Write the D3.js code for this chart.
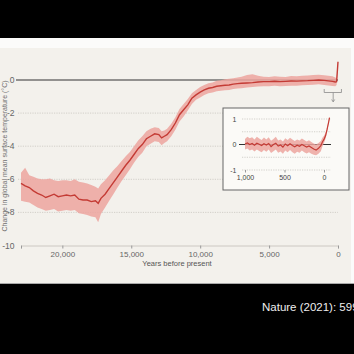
<!DOCTYPE html>
<html>
<head>
<meta charset="utf-8">
<script src="https://cdn.jsdelivr.net/npm/d3@7"></script>
<style>
  html, body { margin: 0; padding: 0; background: #000; }
  svg { display: block; }
</style>
</head>
<body>
<svg id="chart" width="354" height="354"></svg>
<script>
// ---- data ----
// main series: years before present
const years = [23000, 22700, 22400, 22100, 21800, 21500, 21200, 20900, 20600, 20300,
	20000, 19700, 19400, 19100, 18800, 18500, 18200, 17900, 17600, 17400,
	17200, 16900, 16600, 16300, 16000, 15700, 15400, 15100, 14800, 14500,
	14200, 13900, 13600, 13300, 13000, 12800, 12600, 12400, 12100, 11800,
	11500, 11200, 10900, 10600, 10300, 10000, 9700, 9400, 9100, 8800,
	8500, 8200, 7900, 7600, 7300, 7000, 6600, 6200, 5800, 5400,
	5000, 4600, 4200, 3800, 3400, 3000, 2600, 2200, 1800, 1400,
	1000, 700, 400, 200, 100, 0];
const meanTemp = [-6.25, -6.4, -6.5, -6.7, -6.85, -6.95, -7.1, -7.0, -6.9, -7.05,
	-7.0, -6.95, -7.0, -6.95, -7.2, -7.25, -7.25, -7.35, -7.3, -7.45,
	-7.15, -6.9, -6.55, -6.2, -5.85, -5.5, -5.15, -4.85, -4.5, -4.15,
	-3.9, -3.55, -3.4, -3.25, -3.3, -3.5, -3.4, -3.3, -3.0, -2.6,
	-2.1, -1.8, -1.5, -1.1, -0.9, -0.73, -0.6, -0.5, -0.45, -0.38,
	-0.35, -0.32, -0.3, -0.25, -0.22, -0.2, -0.18, -0.16, -0.12, -0.1,
	-0.1, -0.08, -0.1, -0.08, -0.06, -0.07, -0.05, -0.04, -0.02, 0.0,
	-0.02, -0.05, -0.08, -0.12, -0.1, 1.1];
const upperTemp = [-5.6, -5.3, -5.75, -5.85, -5.95, -6.0, -6.0, -5.95, -6.05, -6.1,
	-6.05, -6.05, -6.1, -6.0, -6.15, -6.2, -6.25, -6.35, -6.45, -6.55,
	-6.3, -6.05, -5.75, -5.45, -5.2, -4.9, -4.6, -4.35, -4.0, -3.65,
	-3.4, -3.1, -2.95, -2.85, -2.9, -3.1, -3.05, -2.95, -2.65, -2.25,
	-1.75, -1.45, -1.15, -0.8, -0.6, -0.42, -0.3, -0.2, -0.15, -0.05,
	-0.02, 0.05, 0.08, 0.1, 0.15, 0.2, 0.3, 0.35, 0.25, 0.2,
	0.18, 0.22, 0.2, 0.18, 0.24, 0.22, 0.25, 0.27, 0.3, 0.32,
	0.28, 0.25, 0.22, 0.15, 0.1, 1.15];
const lowerTemp = [-7.3, -7.35, -7.4, -7.55, -7.7, -7.8, -7.9, -7.85, -7.8, -7.95,
	-7.9, -7.85, -7.9, -7.85, -8.05, -8.1, -8.15, -8.25, -8.3, -8.6,
	-8.1, -7.7, -7.3, -6.9, -6.5, -6.1, -5.75, -5.4, -5.0, -4.65,
	-4.4, -4.0, -3.85, -3.7, -3.75, -3.95, -3.8, -3.7, -3.4, -3.0,
	-2.5, -2.2, -1.85, -1.45, -1.2, -1.05, -0.9, -0.8, -0.75, -0.68,
	-0.65, -0.62, -0.6, -0.55, -0.52, -0.5, -0.45, -0.42, -0.4, -0.38,
	-0.38, -0.35, -0.38, -0.36, -0.34, -0.35, -0.32, -0.3, -0.28, -0.25,
	-0.3, -0.33, -0.36, -0.38, -0.3, 1.0];

const xTicks = [23000, 20000, 15000, 10000, 5000, 0];
const yTicks = [0, -2, -4, -6, -8, -10];

// inset: last millennium
const insetYears = [1000, 970, 940, 910, 880, 850, 820, 790, 760, 730,
	700, 670, 640, 610, 580, 550, 520, 490, 460, 430,
	400, 370, 340, 310, 280, 250, 220, 190, 160, 130,
	100, 70, 40, 20, 0, -20, -40, -60, -70];
const insetMean = [0.02, 0.06, 0.0, 0.04, -0.03, 0.05, 0.01, -0.04, 0.03, -0.02,
	0.04, -0.08, 0.0, 0.05, -0.06, -0.02, -0.1, 0.02, -0.05, 0.03,
	-0.04, -0.09, -0.03, -0.07, 0.0, -0.05, -0.1, -0.06, -0.12, -0.18,
	-0.22, -0.15, -0.05, 0.1, 0.2, 0.35, 0.6, 0.9, 1.05];
const insetUpper = [0.22, 0.3, 0.25, 0.28, 0.2, 0.3, 0.24, 0.18, 0.27, 0.2,
	0.28, 0.15, 0.22, 0.3, 0.16, 0.2, 0.12, 0.25, 0.18, 0.26,
	0.2, 0.14, 0.2, 0.16, 0.24, 0.18, 0.12, 0.17, 0.1, 0.04,
	0.0, 0.06, 0.14, 0.26, 0.34, 0.46, 0.68, 0.95, 1.08];
const insetLower = [-0.2, -0.16, -0.24, -0.2, -0.27, -0.2, -0.25, -0.3, -0.22, -0.28,
	-0.2, -0.33, -0.26, -0.2, -0.32, -0.27, -0.36, -0.24, -0.3, -0.22,
	-0.3, -0.36, -0.28, -0.32, -0.24, -0.3, -0.35, -0.3, -0.36, -0.4,
	-0.42, -0.36, -0.26, -0.08, 0.06, 0.24, 0.52, 0.85, 1.02];
const insetXTicks = [1000, 500, 0];
const insetYTicks = [1, 0, -1];

// ---- styles ----
const colors = {
	line: '#c43b35',
	band: '#eca59f',
	text: '#666',
	grid: '#c9c6c0',
	zero: '#333',
	panel: '#f3f1ec',
};
const font = '"Liberation Sans", Arial, sans-serif';

const svg = d3.select('#chart');

// screen-capture frame: black, white strip, beige panel
svg.append('rect').attr('width', 354).attr('height', 354).attr('fill', '#000');
svg.append('rect').attr('x', 0).attr('y', 38).attr('width', 354).attr('height', 246).attr('fill', '#fbfbfa');
svg.append('rect').attr('x', 0).attr('y', 48).attr('width', 351).attr('height', 235).attr('fill', colors.panel);
svg.append('line').attr('x1', 0).attr('x2', 354).attr('y1', 283.5).attr('y2', 283.5)
	.attr('stroke', '#a9a9a9').attr('stroke-width', 1);

// ---- main chart ----
const x = d3.scaleLinear().domain([23000, 0]).range([21, 338]);
const y = d3.scaleLinear().domain([-10, 0]).range([245.5, 80]);

const main = years.map((yr, i) => ({ yr, m: meanTemp[i], hi: upperTemp[i], lo: lowerTemp[i] }));

// dotted grid
svg.append('g')
	.selectAll('line')
	.data(yTicks.filter((d) => d !== 0 && d !== -10))
	.join('line')
	.attr('x1', 18).attr('x2', 338)
	.attr('y1', (d) => y(d)).attr('y2', (d) => y(d))
	.attr('stroke', colors.grid).attr('stroke-width', 0.8)
	.attr('stroke-dasharray', '1.2,1.2');

// y tick labels
svg.append('g')
	.selectAll('text')
	.data(yTicks)
	.join('text')
	.attr('x', 14.5)
	.attr('y', (d) => y(d) + 3)
	.attr('text-anchor', 'end')
	.attr('fill', colors.text)
	.style('font-family', font).style('font-size', '8.5px')
	.text((d) => (d < 0 ? '-' + Math.abs(d) : d));

// y axis title (cut at the left edge)
svg.append('text')
	.attr('transform', `translate(6.5,${156}) rotate(-90)`)
	.attr('text-anchor', 'middle')
	.attr('fill', '#6f6f6f')
	.style('font-family', font).style('font-size', '7px')
	.text('Change in global mean surface temperature (\u00b0C)');

// x axis
const xAxis = svg.append('g')
	.attr('transform', `translate(0,${y(-10)})`)
	.call(d3.axisBottom(x).tickValues(xTicks).tickSize(3).tickPadding(3)
		.tickFormat((d) => (d === 23000 ? '' : d3.format(',')(d))));
xAxis.select('.domain').attr('stroke', '#c2bfb9').attr('stroke-width', 0.8);
xAxis.selectAll('.tick line').attr('stroke', '#999');
xAxis.selectAll('text').attr('fill', colors.text)
	.style('font-family', font).style('font-size', '8px');

svg.append('text')
	.attr('x', 177).attr('y', 266)
	.attr('text-anchor', 'middle')
	.attr('fill', '#555')
	.style('font-family', font).style('font-size', '7.5px')
	.text('Years before present');

// zero line
svg.append('line')
	.attr('x1', 16).attr('x2', 338)
	.attr('y1', y(0)).attr('y2', y(0))
	.attr('stroke', colors.zero).attr('stroke-width', 1.2);

// uncertainty band + mean line
const area = d3.area()
	.x((d) => x(d.yr))
	.y0((d) => y(d.lo))
	.y1((d) => y(d.hi));
const line = d3.line()
	.x((d) => x(d.yr))
	.y((d) => y(d.m));

svg.append('path').datum(main)
	.attr('d', area)
	.attr('fill', colors.band).attr('opacity', 0.85);
svg.append('path').datum(main)
	.attr('d', line)
	.attr('fill', 'none')
	.attr('stroke', colors.line).attr('stroke-width', 1.4);

// bracket pointing to inset
const br = svg.append('g').attr('stroke', '#8a8a8a').attr('stroke-width', 0.8).attr('fill', 'none');
br.append('path').attr('d', `M${x(1000)},89V92.5H${x(-250)}V89`);
br.append('path').attr('d', `M${x(350)},92.5V101`);
br.append('path').attr('d', `M${x(350) - 1.5},99.5L${x(350)},102L${x(350) + 1.5},99.5`);

// ---- inset ----
svg.append('rect')
	.attr('x', 223).attr('y', 108).attr('width', 126).attr('height', 82)
	.attr('fill', '#fbfaf7').attr('stroke', '#666').attr('stroke-width', 1);

const ix = d3.scaleLinear().domain([1000, 0]).range([245, 324]);
const iy = d3.scaleLinear().domain([-1, 1]).range([170, 119]);
const inset = insetYears.map((yr, i) => ({ yr, m: insetMean[i], hi: insetUpper[i], lo: insetLower[i] }));

svg.append('g')
	.selectAll('line')
	.data([1, 0.5, -0.5, -1])
	.join('line')
	.attr('x1', 242).attr('x2', 331)
	.attr('y1', (d) => iy(d)).attr('y2', (d) => iy(d))
	.attr('stroke', colors.grid).attr('stroke-width', 0.8)
	.attr('stroke-dasharray', '1.2,1.2');

svg.append('line')
	.attr('x1', 239).attr('x2', 331)
	.attr('y1', iy(0)).attr('y2', iy(0))
	.attr('stroke', colors.zero).attr('stroke-width', 1);

svg.append('g')
	.selectAll('text')
	.data(insetYTicks)
	.join('text')
	.attr('x', 236.5)
	.attr('y', (d) => iy(d) + 2.5)
	.attr('text-anchor', 'end')
	.attr('fill', '#444')
	.style('font-family', font).style('font-size', '7px')
	.text((d) => (d < 0 ? '-' + Math.abs(d) : d));

const ixAxis = svg.append('g')
	.attr('transform', `translate(0,${iy(-1)})`)
	.call(d3.axisBottom(ix).tickValues(insetXTicks).tickSize(2.5).tickPadding(2.5)
		.tickFormat(d3.format(',')));
ixAxis.select('.domain').remove();
ixAxis.selectAll('.tick line').attr('stroke', '#999');
ixAxis.selectAll('text').attr('fill', '#444')
	.style('font-family', font).style('font-size', '7px');

const iArea = d3.area().x((d) => ix(d.yr)).y0((d) => iy(d.lo)).y1((d) => iy(d.hi));
const iLine = d3.line().x((d) => ix(d.yr)).y((d) => iy(d.m));
svg.append('path').datum(inset)
	.attr('d', iArea)
	.attr('fill', colors.band).attr('opacity', 0.85);
svg.append('path').datum(inset)
	.attr('d', iLine)
	.attr('fill', 'none')
	.attr('stroke', colors.line).attr('stroke-width', 1.2);

// caption in the black bottom area (cut at the right edge, as in the source)
svg.append('text')
	.attr('x', 262).attr('y', 311)
	.attr('fill', '#eee')
	.style('font-family', font).style('font-size', '11.5px')
	.text('Nature (2021): 599');
</script>
</body>
</html>
